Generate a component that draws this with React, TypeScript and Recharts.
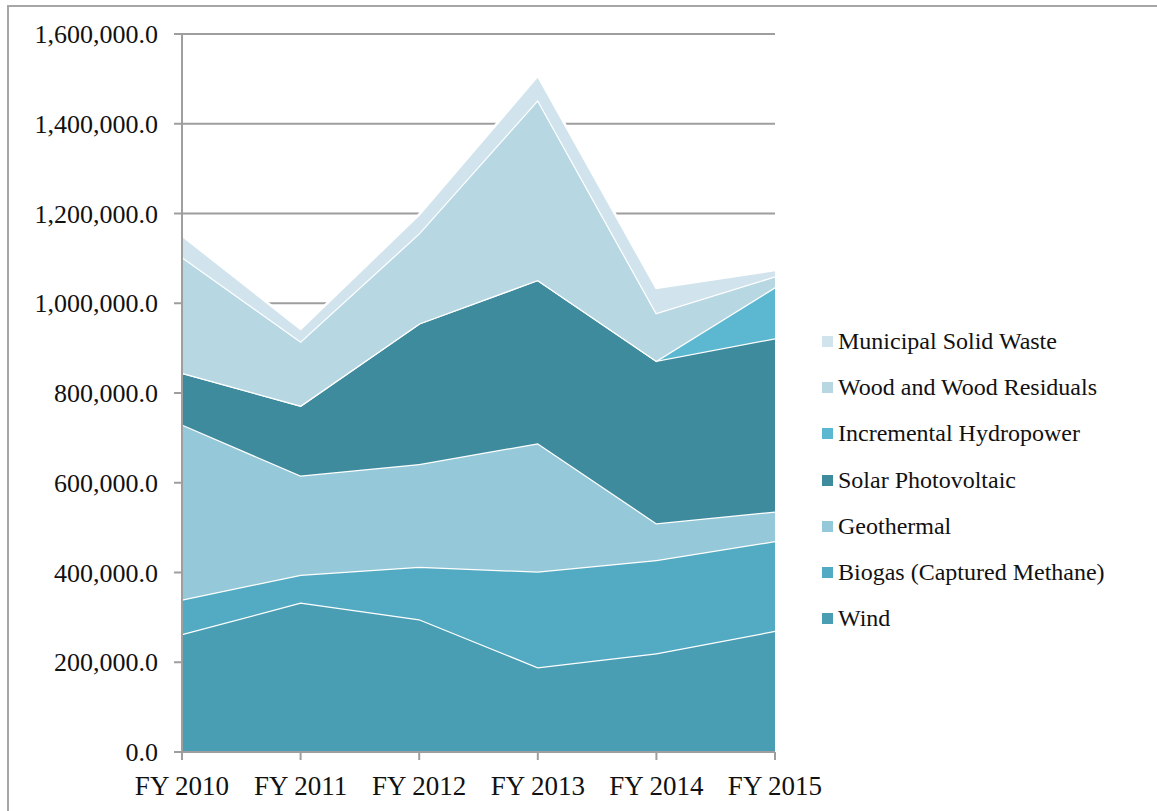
import React from 'react'
import { AreaChart, Area, XAxis, YAxis, CartesianGrid } from 'recharts'

const years = ['FY 2010', 'FY 2011', 'FY 2012', 'FY 2013', 'FY 2014', 'FY 2015']

const wind = [263000, 333000, 296000, 189000, 220000, 270000]
const biogas = [77000, 62000, 117000, 213000, 208000, 200000]
const geothermal = [390000, 221000, 229000, 286000, 82000, 66000]
const solar = [115000, 156000, 313000, 364000, 362000, 386000]
const hydro = [0, 0, 0, 0, 0, 114000]
const wood = [258000, 143000, 201000, 401000, 106000, 24000]
const msw = [48000, 28000, 42000, 54000, 56000, 14000]

const yTicks = [0, 200000, 400000, 600000, 800000, 1000000, 1200000, 1400000, 1600000]

// bottom to top in stacking order
const series = [
  { key: 'wind', name: 'Wind', values: wind, color: '#4a9eb4' },
  { key: 'biogas', name: 'Biogas (Captured Methane)', values: biogas, color: '#52abc2' },
  { key: 'geothermal', name: 'Geothermal', values: geothermal, color: '#95c8d8' },
  { key: 'solar', name: 'Solar Photovoltaic', values: solar, color: '#3f8b9e' },
  { key: 'hydro', name: 'Incremental Hydropower', values: hydro, color: '#5cb8d0' },
  { key: 'wood', name: 'Wood and Wood Residuals', values: wood, color: '#b7d7e3' },
  { key: 'msw', name: 'Municipal Solid Waste', values: msw, color: '#d1e4ed' },
]

const data = years.map((year, i) => {
  const row: Record<string, string | number> = { year }
  series.forEach((s) => {
    row[s.key] = s.values[i]
  })
  return row
})

const fmt = (v: number) =>
  v.toLocaleString('en-US', { minimumFractionDigits: 1, maximumFractionDigits: 1 })

const font = '"Liberation Serif", serif'
const gray = '#9e9e9e'

function ChartLegend() {
  return (
    <div style={{ position: 'absolute', left: 822, top: 318, fontFamily: font, fontSize: 24, color: '#111' }}>
      {[...series].reverse().map((s) => (
        <div key={s.key} style={{ display: 'flex', alignItems: 'center', height: 46.3 }}>
          <span style={{ width: 11, height: 11, background: s.color, marginRight: 5, display: 'inline-block' }} />
          <span>{s.name}</span>
        </div>
      ))}
    </div>
  )
}

export default function App() {
  return (
    <div style={{ position: 'absolute', left: 0, top: 0, width: 1157, height: 811, background: '#fff', overflow: 'hidden' }}>
      <div
        style={{
          position: 'absolute',
          left: 7,
          top: 5,
          width: 1200,
          height: 900,
          borderLeft: '2px solid #a6a6a6',
          borderTop: '2px solid #a6a6a6',
        }}
      />
      <AreaChart
        width={1157}
        height={811}
        data={data}
        margin={{ top: 34, right: 382, bottom: 9, left: 22 }}
        style={{ position: 'absolute', left: 0, top: 0, fontFamily: font }}
      >
        <CartesianGrid vertical={false} stroke={gray} strokeWidth={2} />
        <XAxis
          dataKey="year"
          height={50}
          tickSize={8}
          tickMargin={16}
          stroke={gray}
          strokeWidth={2}
          tick={{ fill: '#111', fontSize: 27, fontFamily: font }}
          interval={0}
        />
        <YAxis
          width={160}
          domain={[0, 1600000]}
          ticks={yTicks}
          tickFormatter={fmt}
          tickSize={8}
          tickMargin={16}
          stroke={gray}
          strokeWidth={2}
          tick={{ fill: '#111', fontSize: 26, fontFamily: font }}
          interval={0}
        />
        {series.map((s) => (
          <Area
            key={s.key}
            type="linear"
            dataKey={s.key}
            name={s.name}
            stackId="1"
            stroke="#ffffff"
            strokeWidth={2.5}
            fill={s.color}
            fillOpacity={1}
            isAnimationActive={false}
          />
        ))}
      </AreaChart>
      <ChartLegend />
    </div>
  )
}
